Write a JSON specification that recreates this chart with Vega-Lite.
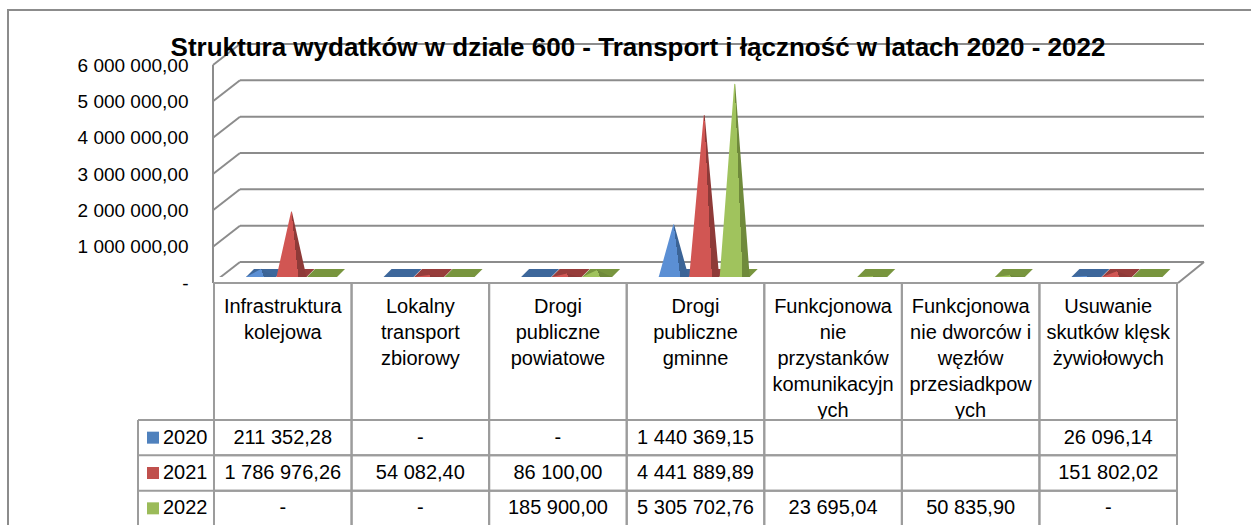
{
  "$schema": "https://vega.github.io/schema/vega-lite/v6.json",
  "width": 1260,
  "height": 530,
  "autosize": {"type": "none"},
  "padding": {"left": 8, "top": 10, "right": 0, "bottom": 0},
  "background": "white",
  "config": {
    "view": {"stroke": "#8c8c8c", "strokeWidth": 2},
    "locale": {"number": {"decimal": ",", "thousands": " ", "grouping": [3], "currency": ["", " zł"]}},
    "font": "Liberation Sans"
  },
  "title": {
    "text": "Struktura wydatków w dziale 600 - Transport i łączność w latach 2020 - 2022",
    "font": "Liberation Sans",
    "fontSize": 26,
    "fontWeight": "bold",
    "color": "#000000",
    "anchor": "middle",
    "frame": "group",
    "baseline": "alphabetic",
    "offset": -72
  },
  "datasets": {
    "main": [
      {"cat": "Infrastruktura kolejowa", "year": "2020", "value": 211352.28},
      {"cat": "Infrastruktura kolejowa", "year": "2021", "value": 1786976.26},
      {"cat": "Infrastruktura kolejowa", "year": "2022", "value": 0},
      {"cat": "Lokalny transport zbiorowy", "year": "2020", "value": 0},
      {"cat": "Lokalny transport zbiorowy", "year": "2021", "value": 54082.40},
      {"cat": "Lokalny transport zbiorowy", "year": "2022", "value": 0},
      {"cat": "Drogi publiczne powiatowe", "year": "2020", "value": 0},
      {"cat": "Drogi publiczne powiatowe", "year": "2021", "value": 86100.00},
      {"cat": "Drogi publiczne powiatowe", "year": "2022", "value": 185900.00},
      {"cat": "Drogi publiczne gminne", "year": "2020", "value": 1440369.15},
      {"cat": "Drogi publiczne gminne", "year": "2021", "value": 4441889.89},
      {"cat": "Drogi publiczne gminne", "year": "2022", "value": 5305702.76},
      {"cat": "Funkcjonowanie przystanków komunikacyjnych", "year": "2020", "value": null},
      {"cat": "Funkcjonowanie przystanków komunikacyjnych", "year": "2021", "value": null},
      {"cat": "Funkcjonowanie przystanków komunikacyjnych", "year": "2022", "value": 23695.04},
      {"cat": "Funkcjonowanie dworców i węzłów przesiadkpowych", "year": "2020", "value": null},
      {"cat": "Funkcjonowanie dworców i węzłów przesiadkpowych", "year": "2021", "value": null},
      {"cat": "Funkcjonowanie dworców i węzłów przesiadkpowych", "year": "2022", "value": 50835.90},
      {"cat": "Usuwanie skutków klęsk żywiołowych", "year": "2020", "value": 26096.14},
      {"cat": "Usuwanie skutków klęsk żywiołowych", "year": "2021", "value": 151802.02},
      {"cat": "Usuwanie skutków klęsk żywiołowych", "year": "2022", "value": 0}
    ],
    "cats": [
      {"cat": "Infrastruktura kolejowa", "label": "Infrastruktura\nkolejowa"},
      {"cat": "Lokalny transport zbiorowy", "label": "Lokalny\ntransport\nzbiorowy"},
      {"cat": "Drogi publiczne powiatowe", "label": "Drogi\npubliczne\npowiatowe"},
      {"cat": "Drogi publiczne gminne", "label": "Drogi\npubliczne\ngminne"},
      {"cat": "Funkcjonowanie przystanków komunikacyjnych", "label": "Funkcjonowa\nnie\nprzystanków\nkomunikacyjn\nych"},
      {"cat": "Funkcjonowanie dworców i węzłów przesiadkpowych", "label": "Funkcjonowa\nnie dworców i\nwęzłów\nprzesiadkpow\nych"},
      {"cat": "Usuwanie skutków klęsk żywiołowych", "label": "Usuwanie\nskutków klęsk\nżywiołowych"}
    ],
    "ticks": [
      {"v": 0}, {"v": 1000000}, {"v": 2000000}, {"v": 3000000},
      {"v": 4000000}, {"v": 5000000}, {"v": 6000000}
    ]
  },
  "resolve": {"scale": {"y": "independent", "color": "independent", "fill": "independent"}},
  "layer": [
    {
      "layer": [
        {
          "data": {"name": "ticks"},
          "mark": {"type": "rule", "stroke": "#8c8c8c", "strokeWidth": 2, "xOffset": -42.8, "x2Offset": 95.8, "yOffset": -21},
          "encoding": {
            "x": {
              "datum": "Infrastruktura kolejowa", "type": "nominal",
              "scale": {
                "type": "band",
                "domain": ["Infrastruktura kolejowa", "Lokalny transport zbiorowy", "Drogi publiczne powiatowe", "Drogi publiczne gminne", "Funkcjonowanie przystanków komunikacyjnych", "Funkcjonowanie dworców i węzłów przesiadkpowych", "Usuwanie skutków klęsk żywiołowych"],
                "range": [206, 1169], "paddingInner": 0, "paddingOuter": 0
              },
              "axis": null
            },
            "x2": {"datum": "Usuwanie skutków klęsk żywiołowych"},
            "y": {
              "field": "v", "type": "quantitative",
              "scale": {"domain": [0, 6000000], "range": [273, 55], "nice": false, "zero": true},
              "axis": {
                "orient": "left",
                "values": [0, 1000000, 2000000, 3000000, 4000000, 5000000, 6000000],
                "offset": 0, "labelPadding": -180, "labelAlign": "right", "ticks": false, "domain": false, "grid": false,
                "title": null, "labelFont": "Liberation Sans", "labelFontSize": 19, "labelColor": "#000000",
                "labelOverlap": false, "labelBound": false, "labelFlush": false, "zindex": 2,
                "labelExpr": "datum.value === 0 ? '-\u00a0' : format(datum.value, ',.2f')"
              }
            }
          }
        },
        {
          "data": {"name": "ticks"},
          "mark": {"type": "rule", "stroke": "#8c8c8c", "strokeWidth": 2, "xOffset": -69.8, "x2Offset": -42.8, "y2Offset": -21},
          "encoding": {
            "x": {"datum": "Infrastruktura kolejowa", "type": "nominal", "axis": null},
            "x2": {"datum": "Infrastruktura kolejowa"},
            "y": {"field": "v", "type": "quantitative"},
            "y2": {"field": "v"}
          }
        },
        {
          "data": {"name": "ticks"},
          "transform": [{"aggregate": [{"op": "max", "field": "v", "as": "vmax"}, {"op": "min", "field": "v", "as": "vmin"}]}],
          "mark": {"type": "rule", "stroke": "#8c8c8c", "strokeWidth": 2, "xOffset": -69.8},
          "encoding": {
            "x": {"datum": "Infrastruktura kolejowa", "type": "nominal", "axis": null},
            "y": {"field": "vmax", "type": "quantitative"},
            "y2": {"field": "vmin"}
          }
        },
        {
          "data": {"name": "ticks"},
          "transform": [{"filter": "datum.v === 0"}],
          "mark": {"type": "rule", "stroke": "#8c8c8c", "strokeWidth": 2, "xOffset": 69.8, "x2Offset": 95.8, "y2Offset": -21},
          "encoding": {
            "x": {"datum": "Usuwanie skutków klęsk żywiołowych", "type": "nominal", "axis": null},
            "x2": {"datum": "Usuwanie skutków klęsk żywiołowych"},
            "y": {"field": "v", "type": "quantitative"},
            "y2": {"field": "v"}
          }
        },
        {
          "data": {"name": "main"},
          "transform": [{"filter": "datum.value !== null"}],
          "mark": {"type": "point", "shape": "M-15,4L15,4L23,-4L-7,-4Z", "size": 4, "filled": true, "opacity": 1, "strokeWidth": 0, "yOffset": -10},
          "encoding": {
            "x": {"field": "cat", "type": "nominal", "axis": null},
            "xOffset": {
              "field": "year", "type": "nominal",
              "scale": {"type": "band", "domain": ["2020", "2021", "2022"], "paddingInner": 0, "paddingOuter": 0.755, "align": 0.689}
            },
            "y": {"datum": 0, "type": "quantitative"},
            "fill": {
              "field": "year", "type": "nominal",
              "scale": {"domain": ["2020", "2021", "2022"], "range": ["#3d679b", "#973d3b", "#78953e"]},
              "legend": null
            }
          }
        },
        {
          "data": {"name": "main"},
          "transform": [
            {"filter": "datum.value > 0 && datum.year === '2020'"},
            {"stack": "value", "groupby": ["cat", "year"], "as": ["v0", "v1"]},
            {"fold": ["v0", "v1"], "as": ["end", "h"]}
          ],
          "mark": {
            "type": "trail", "yOffset": -6,
            "color": {"gradient": "linear", "x1": 0, "y1": 0, "x2": 1, "y2": -0.28,
              "stops": [{"offset": 0, "color": "#5b8fd4"}, {"offset": 0.4636, "color": "#5b8fd4"}, {"offset": 0.4636, "color": "#3b6497"}, {"offset": 1, "color": "#3b6497"}]}
          },
          "encoding": {
            "x": {"field": "cat", "type": "nominal", "axis": null},
            "xOffset": {"field": "year", "type": "nominal"},
            "y": {"field": "h", "type": "quantitative"},
            "size": {"field": "end", "type": "ordinal", "scale": {"domain": ["v0", "v1"], "range": [30, 0]}, "legend": null},
            "detail": {"field": "cat"},
            "order": {"field": "end", "type": "ordinal"}
          }
        },
        {
          "data": {"name": "main"},
          "transform": [
            {"filter": "datum.value > 0 && datum.year === '2021'"},
            {"stack": "value", "groupby": ["cat", "year"], "as": ["v0", "v1"]},
            {"fold": ["v0", "v1"], "as": ["end", "h"]}
          ],
          "mark": {
            "type": "trail", "yOffset": -6,
            "color": {"gradient": "linear", "x1": 0, "y1": 0, "x2": 1, "y2": -0.28,
              "stops": [{"offset": 0, "color": "#d15653"}, {"offset": 0.4636, "color": "#d15653"}, {"offset": 0.4636, "color": "#8e3a38"}, {"offset": 1, "color": "#8e3a38"}]}
          },
          "encoding": {
            "x": {"field": "cat", "type": "nominal", "axis": null},
            "xOffset": {"field": "year", "type": "nominal"},
            "y": {"field": "h", "type": "quantitative"},
            "size": {"field": "end", "type": "ordinal", "scale": {"domain": ["v0", "v1"], "range": [30, 0]}, "legend": null},
            "detail": {"field": "cat"},
            "order": {"field": "end", "type": "ordinal"}
          }
        },
        {
          "data": {"name": "main"},
          "transform": [
            {"filter": "datum.value > 0 && datum.year === '2022'"},
            {"stack": "value", "groupby": ["cat", "year"], "as": ["v0", "v1"]},
            {"fold": ["v0", "v1"], "as": ["end", "h"]}
          ],
          "mark": {
            "type": "trail", "yOffset": -6,
            "color": {"gradient": "linear", "x1": 0, "y1": 0, "x2": 1, "y2": -0.28,
              "stops": [{"offset": 0, "color": "#a0c35d"}, {"offset": 0.4636, "color": "#a0c35d"}, {"offset": 0.4636, "color": "#6f8a3b"}, {"offset": 1, "color": "#6f8a3b"}]}
          },
          "encoding": {
            "x": {"field": "cat", "type": "nominal", "axis": null},
            "xOffset": {"field": "year", "type": "nominal"},
            "y": {"field": "h", "type": "quantitative"},
            "size": {"field": "end", "type": "ordinal", "scale": {"domain": ["v0", "v1"], "range": [30, 0]}, "legend": null},
            "detail": {"field": "cat"},
            "order": {"field": "end", "type": "ordinal"}
          }
        },
        {
          "data": {"name": "cats"},
          "mark": {"type": "rect", "fill": "white", "stroke": null, "yOffset": -6, "y2Offset": 10},
          "encoding": {
            "x": {"field": "cat", "type": "nominal", "axis": null},
            "y": {"datum": 0, "type": "quantitative"},
            "y2": {"datum": 0}
          }
        },
        {
          "data": {"name": "ticks"},
          "transform": [{"filter": "datum.v === 0"}],
          "mark": {"type": "rule", "stroke": "#8c8c8c", "strokeWidth": 2, "xOffset": -69.8, "x2Offset": 69.8},
          "encoding": {
            "x": {"datum": "Infrastruktura kolejowa", "type": "nominal", "axis": null},
            "x2": {"datum": "Usuwanie skutków klęsk żywiołowych"},
            "y": {"field": "v", "type": "quantitative"}
          }
        },
        {
          "data": {"name": "cats"},
          "mark": {"type": "rect", "fill": null, "stroke": "#9c9c9c", "strokeWidth": 2, "y2Offset": 137},
          "encoding": {
            "x": {"field": "cat", "type": "nominal", "axis": null},
            "y": {"datum": 0, "type": "quantitative"},
            "y2": {"datum": 0}
          }
        },
        {
          "data": {"name": "cats"},
          "mark": {"type": "text", "baseline": "top", "align": "center", "yOffset": 14, "fontSize": 20, "lineHeight": 26, "lineBreak": "\n", "font": "Liberation Sans", "color": "#000000"},
          "encoding": {
            "x": {"field": "cat", "type": "nominal", "axis": null},
            "y": {"datum": 0, "type": "quantitative"},
            "text": {"field": "label", "type": "nominal"}
          }
        }
      ]
    },
    {
      "layer": [
        {
          "data": {"name": "main"},
          "mark": {"type": "rect", "fill": null, "stroke": "#9c9c9c", "strokeWidth": 2},
          "encoding": {
            "x": {"field": "cat", "type": "nominal", "axis": null},
            "y": {
              "field": "year", "type": "nominal",
              "scale": {"type": "band", "domain": ["2020", "2021", "2022"], "range": [410, 516], "paddingInner": 0, "paddingOuter": 0},
              "axis": null
            }
          }
        },
        {
          "data": {"name": "main"},
          "mark": {"type": "text", "fontSize": 20, "font": "Liberation Sans", "color": "#000000", "baseline": "middle", "align": "center"},
          "encoding": {
            "x": {"field": "cat", "type": "nominal", "axis": null},
            "y": {"field": "year", "type": "nominal", "axis": null},
            "text": {
              "condition": [
                {"test": "datum.value === null", "value": ""},
                {"test": "datum.value === 0", "value": "-"}
              ],
              "field": "value", "type": "quantitative", "format": ",.2f"
            }
          }
        },
        {
          "data": {"name": "main"},
          "transform": [{"aggregate": [{"op": "count", "as": "n"}], "groupby": ["year"]}],
          "mark": {"type": "rule", "stroke": "#9c9c9c", "strokeWidth": 2, "xOffset": -144.8, "x2Offset": -68.8, "yOffset": -17.67},
          "encoding": {
            "x": {"datum": "Infrastruktura kolejowa", "type": "nominal", "axis": null},
            "x2": {"datum": "Infrastruktura kolejowa"},
            "y": {"field": "year", "type": "nominal", "axis": null}
          }
        },
        {
          "data": {"name": "main"},
          "transform": [{"aggregate": [{"op": "count", "as": "n"}], "groupby": ["year"]}, {"filter": "datum.year === '2020'"}],
          "mark": {"type": "rule", "stroke": "#9c9c9c", "strokeWidth": 2, "xOffset": -144.8, "yOffset": -17.67, "y2Offset": 17.67},
          "encoding": {
            "x": {"datum": "Infrastruktura kolejowa", "type": "nominal", "axis": null},
            "y": {"datum": "2020", "type": "nominal", "axis": null},
            "y2": {"datum": "2022"}
          }
        },
        {
          "data": {"name": "main"},
          "transform": [{"aggregate": [{"op": "count", "as": "n"}], "groupby": ["year"]}],
          "mark": {"type": "point", "shape": "square", "size": 144, "filled": true, "opacity": 1, "strokeWidth": 0, "xOffset": -129.8},
          "encoding": {
            "x": {"datum": "Infrastruktura kolejowa", "type": "nominal", "axis": null},
            "y": {"field": "year", "type": "nominal", "axis": null},
            "fill": {
              "field": "year", "type": "nominal",
              "scale": {"domain": ["2020", "2021", "2022"], "range": ["#4f81bd", "#c0504d", "#9bbb59"]},
              "legend": null
            }
          }
        },
        {
          "data": {"name": "main"},
          "transform": [{"aggregate": [{"op": "count", "as": "n"}], "groupby": ["year"]}],
          "mark": {"type": "text", "fontSize": 20, "font": "Liberation Sans", "color": "#000000", "baseline": "middle", "align": "left", "xOffset": -119.8},
          "encoding": {
            "x": {"datum": "Infrastruktura kolejowa", "type": "nominal", "axis": null},
            "y": {"field": "year", "type": "nominal", "axis": null},
            "text": {"field": "year", "type": "nominal"}
          }
        }
      ]
    }
  ]
}
